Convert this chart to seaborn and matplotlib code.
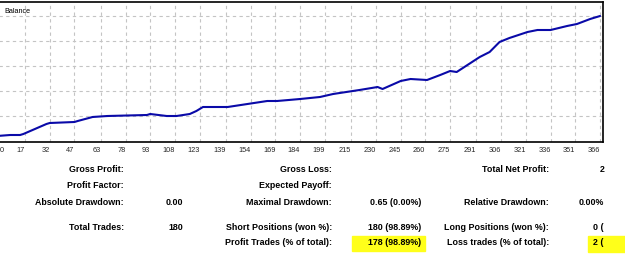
import matplotlib
matplotlib.use("Agg")
import matplotlib.pyplot as plt
import matplotlib.transforms as mtransforms
from matplotlib.patches import Rectangle
import seaborn as sns
import pandas as pd

# ---- data ----
deal_index = [0, 8, 14, 16, 30, 32, 47, 49, 58, 67, 91, 93, 103, 109, 117, 121, 125,
              140, 148, 164, 170, 184, 196, 204, 220, 231, 234, 245, 251, 261, 269,
              275, 279, 293, 299, 305, 311, 322, 328, 336, 346, 352, 360, 366]
balance = [10020, 10024, 10024, 10028, 10068, 10072, 10076, 10080, 10096, 10100,
           10104, 10108, 10100, 10100, 10108, 10120, 10136, 10136, 10144, 10160,
           10160, 10168, 10176, 10188, 10204, 10216, 10208, 10240, 10248, 10244,
           10264, 10280, 10276, 10336, 10356, 10396, 10412, 10436, 10444, 10444,
           10460, 10468, 10488, 10500]
x_ticks = [0, 17, 32, 47, 63, 78, 93, 108, 123, 139, 154, 169, 184, 199, 215, 230,
           245, 260, 275, 291, 306, 321, 336, 351, 366]
y_grid = [10100, 10200, 10300, 10400, 10500]

col1_labels = ["Gross Profit:", "Profit Factor:", "Absolute Drawdown:", "Total Trades:"]
col1_values = ["", "", "0.00", "180"]
col2_labels = ["Gross Loss:", "Expected Payoff:", "Maximal Drawdown:",
               "Short Positions (won %):", "Profit Trades (% of total):"]
col2_values = ["", "", "0.65 (0.00%)", "180 (98.89%)", "178 (98.89%)"]
col3_labels = ["Total Net Profit:", "", "Relative Drawdown:",
               "Long Positions (won %):", "Loss trades (% of total):"]
col4_values = ["2", "", "0.00%", "0 (", "2 ("]

df = pd.DataFrame({"deal": deal_index, "balance": balance})

W, H = 625, 255
sns.set_style("white")
plt.rcParams["font.family"] = ["Liberation Sans", "DejaVu Sans"]
fig = plt.figure(figsize=(W / 100, H / 100), dpi=100)
fig.patch.set_facecolor("white")

def fx(px):
    return px / W

def fy(py):
    return 1 - py / H

ax = fig.add_axes([fx(-3), fy(143), fx(606), (143 - 3) / H])
sns.lineplot(data=df, x="deal", y="balance", ax=ax, color="#0a0aa8", linewidth=1.5)
ax.set_xlim(0, 367.8)
ax.set_ylim(9996, 10556)
ax.set_xticks(x_ticks)
ax.set_xticklabels([str(t) for t in x_ticks], fontsize=5.3)
ax.set_yticks(y_grid)
ax.set_yticklabels([])
ax.tick_params(axis="y", length=0)
ax.tick_params(axis="x", length=0, pad=3)
ax.set_xlabel("")
ax.set_ylabel("")
ax.grid(True, color="#c4c4c4", linestyle=(0, (3, 3)), linewidth=0.8)
ax.spines["left"].set_visible(False)
for s in ["top", "right", "bottom"]:
    ax.spines[s].set_color("black")
    ax.spines[s].set_linewidth(1.2)
offset = mtransforms.ScaledTranslation(0, 0, fig.dpi_scale_trans)
labels = ax.get_xticklabels()
for i, lab in enumerate(labels):
    if i == 0:
        lab.set_ha("left")
        lab.set_transform(lab.get_transform() + mtransforms.ScaledTranslation(3 / 100, 0, fig.dpi_scale_trans))
    else:
        lab.set_ha("right")
ax.text(0.012, 0.965, "Balance", transform=ax.transAxes, fontsize=5.2,
        ha="left", va="top", color="black")

# highlights
fig.patches.append(Rectangle((fx(352), fy(252)), fx(73), (252 - 237) / H,
                             transform=fig.transFigure, color="#ffff1a", zorder=0))
fig.patches.append(Rectangle((fx(588), fy(253)), fx(40), (253 - 237) / H,
                             transform=fig.transFigure, color="#ffff1a", zorder=0))

rows_y = [170, 186, 203, 228, 243]
kw = dict(fontsize=6.4, fontweight="bold", va="center", color="black")
for lab, val, y in zip(col1_labels, col1_values, rows_y):
    fig.text(fx(124), fy(y), lab, ha="right", **kw)
    if val:
        fig.text(fx(183), fy(y), val, ha="right", **kw)
for lab, val, y in zip(col2_labels, col2_values, rows_y):
    fig.text(fx(332), fy(y), lab, ha="right", **kw)
    if val:
        fig.text(fx(421), fy(y), val, ha="right", **kw)
for lab, y in zip(col3_labels, rows_y):
    if lab:
        fig.text(fx(549), fy(y), lab, ha="right", **kw)
col4_x = [600, 0, 579, 593, 593]
for val, x, y in zip(col4_values, col4_x, rows_y):
    if val:
        fig.text(fx(x), fy(y), val, ha="left", **kw)

fig.savefig("out.png", dpi=100)
